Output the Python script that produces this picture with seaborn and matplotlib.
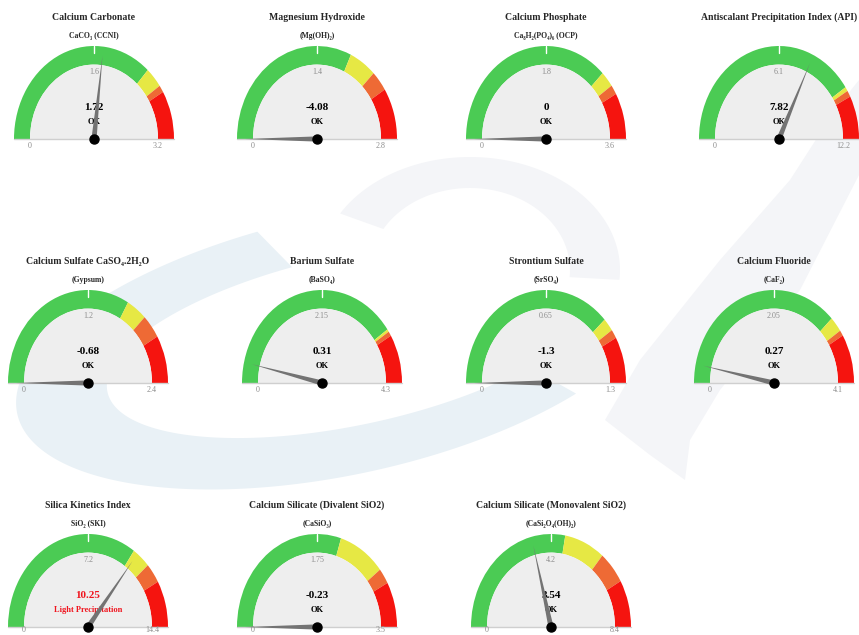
import numpy as np
import matplotlib
matplotlib.use("Agg")
import matplotlib.pyplot as plt
from matplotlib.patches import Wedge, Polygon
import seaborn as sns

# gauge data
titles = ["Calcium Carbonate", "Magnesium Hydroxide", "Calcium Phosphate",
          "Antiscalant Precipitation Index (API)", "Calcium Sulfate CaSO\u2084.2H\u2082O",
          "Barium Sulfate", "Strontium Sulfate", "Calcium Fluoride",
          "Silica Kinetics Index", "Calcium Silicate (Divalent SiO2)",
          "Calcium Silicate (Monovalent SiO2)"]
subtitles = ["CaCO\u2083 (CCNI)", "(Mg(OH)\u2082)", "Ca\u2088H\u2082(PO\u2084)\u2086 (OCP)", "",
             "(Gypsum)", "(BaSO\u2084)", "(SrSO\u2084)", "(CaF\u2082)",
             "SiO\u2082 (SKI)", "(CaSiO\u2083)", "(CaSi\u2082O\u2084(OH)\u2082)"]
values = [1.72, -4.08, 0, 7.82, -0.68, 0.31, -1.3, 0.27, 10.25, -0.23, 3.54]
max_values = [3.2, 2.8, 3.6, 12.2, 2.4, 4.3, 1.3, 4.1, 14.4, 3.5, 8.4]
yellow_from = [2.35, 1.79, 2.70, 9.91, 1.60, 3.46, 0.99, 3.10, 10.0, 2.09, 4.68]
orange_from = [2.58, 2.10, 2.90, 10.09, 1.80, 3.50, 1.05, 3.32, 11.07, 2.76, 6.06]
red_from = [2.66, 2.30, 3.02, 10.36, 2.00, 3.57, 1.09, 3.40, 12.07, 2.95, 7.02]
status = ["OK"] * 8 + ["Light Precipitation", "OK", "OK"]

# gauge centres in pixels (x, y from top)
centers = [(94, 139), (317, 139), (546, 139), (779, 139),
           (88, 383), (322, 383), (546, 383), (774, 383),
           (88, 627), (317, 627), (551, 627)]

W, H = 859, 635
RX, RY = 80, 93  # px per gauge unit (screenshot is stretched vertically)

GREEN, YELLOW, ORANGE, RED = "#4bcb54", "#e6e844", "#ee6a35", "#f5140f"
SERIF = ["Liberation Serif", "DejaVu Serif"]

sns.set_theme(style="white")
plt.rcParams["font.family"] = SERIF

fig = plt.figure(figsize=(W / 100, H / 100), dpi=100)
fig.patch.set_facecolor("white")

# faint logo watermark in the background
bg = fig.add_axes([0, 0, 1, 1], zorder=-5)
bg.set_xlim(0, W)
bg.set_ylim(H, 0)
bg.axis("off")


def ring(c_out, r_out, c_in, r_in, t0, t1, tilt=0):
    t = np.radians(np.linspace(t0, t1, 150))
    p = np.radians(tilt)
    ax_u = np.array([np.cos(p), -np.sin(p)])
    ax_v = np.array([-np.sin(p), -np.cos(p)])
    outer = (np.array(c_out) + np.outer(r_out[0] * np.cos(t), ax_u)
             + np.outer(r_out[1] * np.sin(t), ax_v))
    tt = t[::-1]
    inner = (np.array(c_in) + np.outer(r_in[0] * np.cos(tt), ax_u)
             + np.outer(r_in[1] * np.sin(tt), ax_v))
    return np.vstack([outer, inner])


bg.add_patch(Polygon(ring((340, 345), (330, 130), (352, 340), (250, 85), 100, 312, tilt=12),
                     closed=True, fc="#e9f1f6", ec="none"))
bg.add_patch(Polygon(ring((470, 270), (150, 113), (470, 270), (100, 82), -5, 150),
                     closed=True, fc="#f4f5f8", ec="none"))
bg.add_patch(Polygon([(835, 110), (859, 80), (859, 175), (800, 290), (720, 390), (690, 440),
                      (685, 480), (650, 455), (605, 420), (640, 360), (720, 260), (790, 180)],
                     closed=True, fc="#f4f5f8", ec="none"))

for i, (cx, cy) in enumerate(centers):
    left, right, top, bottom = cx - 115, cx + 115, cy - 135, cy + 20
    ax = fig.add_axes([left / W, (H - bottom) / H, (right - left) / W, (bottom - top) / H])
    ax.set_xlim(-115 / RX, 115 / RX)
    ax.set_ylim(-20 / RY, 135 / RY)
    ax.axis("off")
    ax.patch.set_alpha(0)

    vmax = max_values[i]
    edges = [0, yellow_from[i], orange_from[i], red_from[i], vmax]
    for (a, b), col in zip(zip(edges[:-1], edges[1:]), [GREEN, YELLOW, ORANGE, RED]):
        ax.add_patch(Wedge((0, 0), 1, 180 - 180 * b / vmax, 180 - 180 * a / vmax,
                           width=0.2, fc=col, ec="none"))
    ax.add_patch(Wedge((0, 0), 0.8, 0, 180, fc="#eeeeee", ec="none"))
    ax.plot([-1, 1], [0, 0], color="#cfcfcf", lw=1)
    ax.plot([0, 0], [1, 0.92], color="white", lw=1)

    # min / max labels sit just under the base line (kept inside the figure)
    below = min(7, H - cy - 5) / RY
    ax.text(-0.8, -below, "0", ha="center", va="center", fontsize=5.8, color="#8c8c8c")
    ax.text(0.8, -below, f"{vmax:g}", ha="center", va="center", fontsize=5.8, color="#8c8c8c")
    ax.text(0, 0.72, f"{vmax / 2:g}", ha="center", va="center", fontsize=5.8, color="#8c8c8c")

    ax.text(0, 1.31, titles[i], ha="center", va="center", fontsize=7, fontweight="bold")
    if subtitles[i]:
        ax.text(0, 1.11, subtitles[i], ha="center", va="center", fontsize=5.5, fontweight="bold")

    txt_col = "black" if status[i] == "OK" else "#f0141e"
    ax.text(0, 0.335, f"{values[i]:g}", ha="center", va="center", fontsize=8,
            fontweight="bold", color=txt_col)
    ax.text(0, 0.18, status[i], ha="center", va="center", fontsize=6,
            fontweight="bold", color=txt_col)

    # needle
    frac = min(max(values[i], 0), vmax) / vmax
    th = np.radians(180 - 180 * frac)
    tip = np.array([0.9 * np.cos(th), 0.9 * np.sin(th)])
    v = tip * [RX, RY]
    perp = np.array([-v[1], v[0]]) / np.hypot(*v) * 2.6 / [RX, RY]
    ax.add_patch(Polygon([perp, tip, -perp], closed=True, fc="#737373", ec="none", zorder=4))
    ax.plot(0, 0, "o", ms=6.5, color="black", zorder=5)

fig.savefig("out.png", dpi=100, facecolor="white")
